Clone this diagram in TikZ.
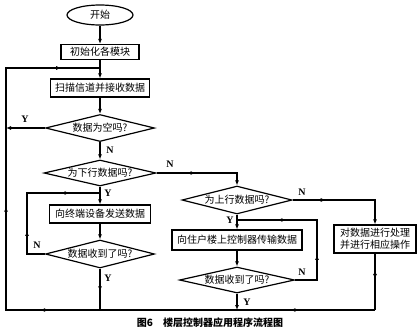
\documentclass[tikz,border=0pt]{standalone}
\usepackage{fontspec}
\setmainfont{Liberation Serif}
\newfontfamily\cjk{Noto Sans CJK SC}
\usetikzlibrary{shapes.geometric,arrows.meta,decorations.markings}
\newcommand\tipA{\arrow{Latex[length=5pt,width=4pt]}}
\begin{document}
\begin{tikzpicture}[x=1pt,y=-1pt,
  base/.style={draw, line width=1.2pt, font=\cjk\fontsize{10}{12}\selectfont, inner sep=0pt},
  procbox/.style={base, rectangle},
  decbox/.style={base, diamond, shape aspect=4},
  termbox/.style={base, ellipse},
  lab/.style={font=\bfseries\fontsize{10}{10}\selectfont, inner sep=0pt},
  conn/.style={line width=1.2pt},
  arr/.style={conn, -{Latex[length=5pt,width=4pt]}},
  marr/.style={postaction={decorate}, decoration={markings, mark=at position #1 with {\tipA}}}
]
\useasboundingbox (0,0) rectangle (420,335);

% nodes
\node[termbox, minimum width=66pt, minimum height=20pt] (start) at (100,15) {开始};
\node[procbox, minimum width=78pt, minimum height=15pt] (init) at (100,52) {初始化各模块};
\node[procbox, minimum width=99pt, minimum height=18pt] (scan) at (100,88) {扫描信道并接收数据};
\node[decbox, minimum width=109pt, minimum height=27pt] (d1) at (100,128) {数据为空吗?};
\node[decbox, minimum width=112pt, minimum height=26pt] (d2) at (100,173) {为下行数据吗?};
\node[procbox, minimum width=101pt, minimum height=18pt] (send) at (100,214) {向终端设备发送数据};
\node[decbox, minimum width=109pt, minimum height=28pt] (d3) at (100,254) {数据收到了吗?};
\node[decbox, minimum width=110pt, minimum height=28pt] (d4) at (237,200) {为上行数据吗?};
\node[procbox, minimum width=130pt, minimum height=20pt] (tx) at (237,240) {向住户楼上控制器传输数据};
\node[decbox, minimum width=115pt, minimum height=26pt] (d5) at (237,280) {数据收到了吗?};
\node[procbox, minimum width=82pt, minimum height=28pt, align=center] (pr) at (375,239) {对数据进行处理\\并进行相应操作};

% coordinates
\coordinate (jtop) at (100,68);
\coordinate (tl) at (6,68);
\coordinate (bl) at (6,310);
\coordinate (b1) at (100,310);
\coordinate (b2) at (237,310);
\coordinate (br) at (375,310);
\coordinate (ly1) at (6,128);
\coordinate (c2) at (237,173);
\coordinate (j2) at (100,193);
\coordinate (l2a) at (27,254);
\coordinate (l2b) at (27,193);
\coordinate (j4) at (237,220);
\coordinate (r4a) at (317,280);
\coordinate (r4b) at (317,220);
\coordinate (c4) at (375,200);

% connectors
\draw[arr] (start) -- (init);
\draw[arr] (init) -- (scan);
\draw[arr] (scan) -- (d1);
\draw[arr] (d1.west) -- (ly1);
\draw[arr] (d1) -- (d2);
\draw[arr, marr=0.42] (d2.east) -- (c2) -- (d4.north);
\draw[arr] (d2) -- (send);
\draw[arr] (send) -- (d3);
\draw[conn, postaction={decorate}, decoration={markings,
   mark=at position 0.27 with {\tipA}, mark=at position 0.80 with {\tipA}}]
   (d3.west) -- (l2a) -- (l2b) -- (j2);
\draw[conn, marr=0.55] (d3.south) -- (b1);
\draw[arr, marr=0.31] (d4.east) -- (c4) -- (pr.north);
\draw[conn, marr=0.45] (pr.south) -- (br);
\draw[arr] (d4) -- (tx);
\draw[arr] (tx) -- (d5);
\draw[conn, postaction={decorate}, decoration={markings,
   mark=at position 0.29 with {\tipA}, mark=at position 0.75 with {\tipA}}]
   (d5.east) -- (r4a) -- (r4b) -- (j4);
\draw[arr] (d5) -- (b2);
\draw[conn, postaction={decorate}, decoration={markings,
   mark=at position 0.12 with {\tipA}, mark=at position 0.475 with {\tipA},
   mark=at position 0.67 with {\tipA}, mark=at position 0.945 with {\tipA}}]
   (br) -- (bl) -- (tl) -- (jtop);

% labels
\node[lab] (ya) at (25,119) {Y};
\node[lab] (na) at (110,150) {N};
\node[lab] (nb) at (170,164) {N};
\node[lab] (yb) at (108,193) {Y};
\node[lab] (nc) at (37,245) {N};
\node[lab] (yc) at (108,278) {Y};
\node[lab] (nd) at (302,192) {N};
\node[lab] (yd) at (230,220) {Y};
\node[lab] (ne) at (302,272) {N};
\node[lab] (ye) at (247,302) {Y};

% caption
\node[font=\cjk\bfseries\fontsize{10}{10}\selectfont, inner sep=0pt] (cap) at (210,323) {图6\quad 楼层控制器应用程序流程图};
\end{tikzpicture}
\end{document}
